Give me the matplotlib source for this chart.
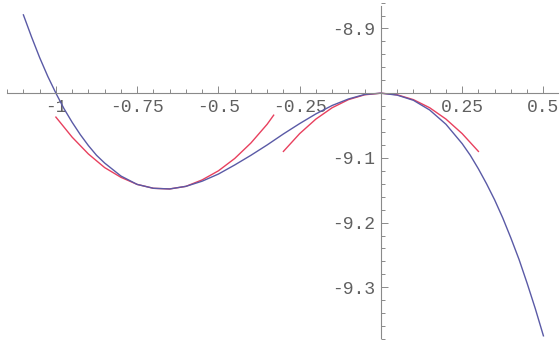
import matplotlib.pyplot as plt
from matplotlib.ticker import FixedLocator, MultipleLocator

# cubic f(x) (denser where it bends more)
x_f = [-1.100, -1.075, -1.050, -1.025, -1.000, -0.975, -0.950, -0.925, -0.900,
       -0.875, -0.850, -0.800, -0.750, -0.700, -0.650, -0.600, -0.550, -0.500,
       -0.450, -0.400, -0.350, -0.300, -0.250, -0.200, -0.150, -0.100, -0.050,
       0.000, 0.050, 0.100, 0.150, 0.200, 0.250, 0.275, 0.300, 0.325, 0.350,
       0.375, 0.400, 0.425, 0.450, 0.475, 0.500]
y_f = [-8.879, -8.913, -8.945, -8.974, -9.000, -9.024, -9.045, -9.064, -9.081,
       -9.096, -9.108, -9.128, -9.141, -9.147, -9.148, -9.144, -9.136, -9.125,
       -9.111, -9.096, -9.080, -9.063, -9.047, -9.032, -9.019, -9.009, -9.002,
       -9.000, -9.003, -9.011, -9.026, -9.048, -9.078, -9.096, -9.117, -9.140, -9.165,
       -9.193, -9.224, -9.257, -9.294, -9.333, -9.375]

# quadratic approximation around the local minimum
x_q1 = [-1.00, -0.95, -0.90, -0.85, -0.80, -0.75, -0.70, -0.65,
        -0.60, -0.55, -0.50, -0.45, -0.40, -0.35, -0.33]
y_q1 = [-9.037, -9.068, -9.094, -9.115, -9.130, -9.141, -9.147, -9.148,
        -9.144, -9.134, -9.120, -9.101, -9.077, -9.048, -9.034]

# quadratic approximation around the local maximum
x_q2 = [-0.30, -0.25, -0.20, -0.15, -0.10, -0.05, 0.00,
        0.05, 0.10, 0.15, 0.20, 0.25, 0.30]
y_q2 = [-9.090, -9.0625, -9.040, -9.0225, -9.010, -9.0025, -9.000,
        -9.0025, -9.010, -9.0225, -9.040, -9.0625, -9.090]

x_ticks = [-1, -0.75, -0.5, -0.25, 0.25, 0.5]
x_labels = ["-1", "-0.75", "-0.5", "-0.25", "0.25", "0.5"]
y_ticks = [-8.9, -9.1, -9.2, -9.3]
y_labels = ["-8.9", "-9.1", "-9.2", "-9.3"]

BLUE = "#5a5aa6"
RED = "#e8405e"
AXIS = "#8a8a8a"

fig = plt.figure(figsize=(5.6, 3.41), dpi=100)
ax = fig.add_axes([0, 0, 1, 1])

ax.plot(x_q1, y_q1, color=RED, lw=1.0)
ax.plot(x_q2, y_q2, color=RED, lw=1.0)
ax.plot(x_f, y_f, color=BLUE, lw=1.0)

ax.set_xlim(-1.172, 0.551)
ax.set_ylim(-9.383, -8.856)

# axes crossing at (0, -9)
for s in ("top", "right"):
    ax.spines[s].set_visible(False)
ax.spines["bottom"].set_position(("data", -9.0))
ax.spines["left"].set_position(("data", 0.0))
ax.spines["bottom"].set_bounds(-1.15, 0.545)
ax.spines["left"].set_bounds(-9.378, -8.865)
for s in ("bottom", "left"):
    ax.spines[s].set_color(AXIS)
    ax.spines[s].set_linewidth(0.8)

ax.xaxis.set_major_locator(FixedLocator(x_ticks))
ax.set_xticklabels(x_labels)
ax.xaxis.set_minor_locator(MultipleLocator(0.05))
ax.yaxis.set_major_locator(FixedLocator(y_ticks))
ax.set_yticklabels(y_labels)
ax.yaxis.set_minor_locator(MultipleLocator(0.02))

ax.tick_params(which="both", direction="in", color=AXIS, width=0.7)
ax.tick_params(which="major", length=5, pad=4, labelsize=13, labelcolor="#606060")
ax.tick_params(which="minor", length=3)
for lab in ax.get_xticklabels() + ax.get_yticklabels():
    lab.set_family("Liberation Mono")

fig.savefig("out.png", dpi=100)
